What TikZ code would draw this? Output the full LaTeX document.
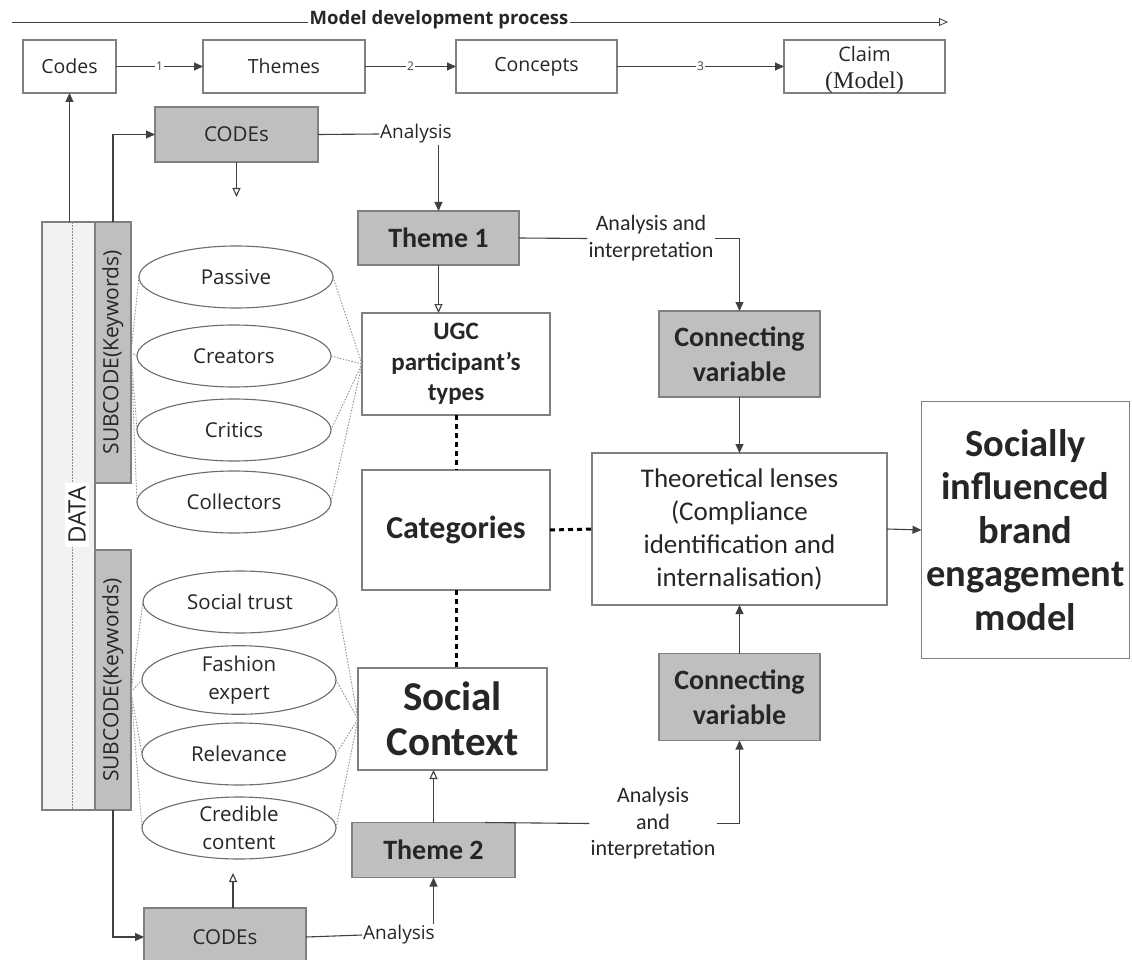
\documentclass[tikz,border=0pt]{standalone}
\usepackage{fontspec}
\setmainfont{Carlito}
\newfontfamily\segfont{Open Sans}
\newfontfamily\serfont{Liberation Serif}
\usetikzlibrary{arrows.meta,shapes.geometric}
\definecolor{boxgray}{HTML}{BFBFBF}
\definecolor{datafill}{HTML}{F2F2F2}
\definecolor{edgegray}{HTML}{7F7F7F}
\definecolor{linec}{HTML}{404040}
\definecolor{txt}{HTML}{262626}
\definecolor{dotgray}{HTML}{909090}
\newcommand{\fs}[2]{\fontsize{#1}{#2}\selectfont}
\begin{document}
\begin{tikzpicture}[x=1pt,y=-1pt,
 box/.style={draw=edgegray, line width=1.2pt, fill=white, inner sep=0pt, outer sep=0pt, align=center, text=txt},
 gbox/.style={box, fill=boxgray},
 oval/.style={ellipse, draw=edgegray!85!black, line width=1.1pt, fill=white, inner sep=0pt, outer sep=0pt, minimum width=194pt, minimum height=62pt, align=center, text=txt, font=\segfont\fs{20.5}{28}},
 conn/.style={draw=linec, line width=1.1pt},
 arrF/.style={conn, -{Triangle[length=9pt,width=8pt]}},
 arrO/.style={conn, -{Triangle[open,length=9pt,width=8pt,fill=white]}},
 ddash/.style={draw=black, line width=3pt, dash pattern=on 5pt off 4pt},
 dotl/.style={draw=dotgray, line width=0.9pt, dash pattern=on 1.5pt off 1.5pt},
 lbl/.style={inner sep=1pt, text=txt, align=center},
 numl/.style={fill=white, inner sep=1pt, text=linec, font=\segfont\fs{12}{13}},
]
\useasboundingbox (0,0) rectangle (1132,960);

% ---------- top process row ----------
\coordinate (pl) at (12,22);
\coordinate (pr) at (948,22);
\node[lbl, font=\segfont\bfseries\fs{18.5}{22}] (mdp) at (439,20) {Model development process};
\draw[conn, line width=0.8pt] (pl) -- (pl -| mdp.west);
\draw[arrO, line width=0.8pt] (pl -| mdp.east) -- (pr);

\node[box, minimum width=93pt, minimum height=53pt, font=\segfont\fs{19.5}{22}] (codes) at (69.5,66.5) {Codes};
\node[box, minimum width=162pt, minimum height=53pt, font=\segfont\fs{19.5}{22}] (themes) at (284,66.5) {Themes};
\node[box, minimum width=161pt, minimum height=53pt, font=\segfont\fs{19.5}{22}] (concepts) at (536.5,66.5) {Concepts};
\node[box, minimum width=161pt, minimum height=53pt] (claim) at (864.5,66.5) {};
\node[lbl, font=\segfont\fs{20}{22}] (claimt) at (864.5,54) {Claim};
\node[lbl, font=\serfont\fs{24}{26}] (modelt) at (864.5,83) {(Model)};

\draw[arrF] (codes.east) -- node[numl]{1} (themes.west);
\draw[arrF] (themes.east) -- node[numl]{2} (concepts.west);
\draw[arrF] (concepts.east) -- node[numl]{3} (claim.west);

% ---------- DATA column ----------
\node[box, fill=datafill, minimum width=53pt, minimum height=588pt] (dataBox) at (68.5,516) {};
\draw[dotl] ([xshift=3.5pt]dataBox.north) -- ([xshift=3.5pt]dataBox.south);
\node[rotate=90, fill=white, inner sep=3pt, font=\segfont\fs{24}{28}, text=txt] (datal) at (77,515) {DATA};
\node[gbox, rotate=90, minimum width=261pt, minimum height=36pt, font=\segfont\fs{21}{24}] (sub1) at (113,352.5) {SUBCODE(Keywords)};
\node[gbox, rotate=90, minimum width=260pt, minimum height=36pt, font=\segfont\fs{21}{24}] (sub2) at (113,680) {SUBCODE(Keywords)};

% ---------- ellipses ----------
\node[oval] (passive) at (236,277) {Passive};
\node[oval] (creators) at (234,356) {Creators};
\node[oval] (critics) at (234,430) {Critics};
\node[oval] (collectors) at (234,502) {Collectors};
\node[oval] (trust) at (240,602) {Social trust};
\node[oval] (fashion) at (239,680) {Fashion\\expert};
\node[oval] (relevance) at (239,754) {Relevance};
\node[oval] (credible) at (239,828) {Credible\\content};

% ---------- middle column ----------
\node[gbox, minimum width=163pt, minimum height=55pt, font=\segfont\fs{20.5}{24}] (codesTop) at (236.5,134.5) {CODEs};
\node[gbox, minimum width=161pt, minimum height=54pt, font=\bfseries\fs{28}{32}] (theme1) at (438.5,238) {Theme 1};
\node[box, minimum width=188pt, minimum height=102pt, font=\bfseries\fs{25}{30.5}] (ugc) at (456,364) {UGC\\participant’s\\types};
\node[box, minimum width=188pt, minimum height=120pt, font=\bfseries\fs{32}{36}] (categories) at (456,530) {Categories};
\node[box, minimum width=189pt, minimum height=102pt, font=\bfseries\fs{41}{45}] (social) at (452.5,719) {Social\\Context};
\node[gbox, minimum width=163pt, minimum height=55pt, font=\bfseries\fs{28}{32}] (theme2) at (433.5,850) {Theme 2};
\node[gbox, minimum width=162pt, minimum height=58pt, font=\segfont\fs{20.5}{24}] (codesBot) at (225,937) {CODEs};

% ---------- right part ----------
\node[gbox, minimum width=161pt, minimum height=86pt, font=\bfseries\fs{28}{35}] (cv1) at (739.5,354) {Connecting\\variable};
\node[box, minimum width=295pt, minimum height=152pt, font=\fs{27}{33}] (theo) at (739.5,529) {Theoretical lenses\\(Compliance\\identification and\\internalisation)};
\node[gbox, minimum width=161pt, minimum height=87pt, font=\bfseries\fs{28}{35}] (cv2) at (739.5,697) {Connecting\\variable};
\node[box, minimum width=208pt, minimum height=257pt, font=\bfseries\fs{38.5}{43.5}] (sibem) at (1025.5,530) {Socially\\influenced\\brand\\engagement\\model};

% ---------- labels ----------
\node[lbl, font=\segfont\fs{19}{22}] (an1) at (416,134) {Analysis};
\node[lbl, font=\fs{22}{27}] (ai1) at (651,238.5) {Analysis and\\interpretation};
\node[lbl, font=\fs{22}{26.5}] (ai2) at (653,823.5) {Analysis\\and\\interpretation};
\node[lbl, font=\segfont\fs{19}{22}] (an2) at (399,935) {Analysis};

% ---------- connectors ----------
\draw[arrF] (codes.south |- dataBox.north) -- (codes.south);
\draw[arrF] (sub1.east) |- (codesTop.west);
\coordinate (c1end) at (236.5,197);
\draw[arrO] (codesTop.south) -- (c1end);
\draw[conn] (codesTop.east) -- (an1.west);
\draw[arrF] (theme1.north |- an1.south) -- (theme1.north);
\draw[arrO] (theme1.south) -- (theme1.south |- ugc.north);
\draw[conn] (theme1.east) -- (ai1.west);
\draw[arrF] (ai1.east) -| (cv1.north);
\draw[arrF] (cv1.south) -- (theo.north);
\draw[arrF] (cv2.north) -- (theo.south);
\draw[arrF] (theo.east) -- (sibem.west);

\draw[arrF] (sub2.west) |- (codesBot.west);
\coordinate (c2end) at (233,873);
\draw[arrO] ([xshift=8pt]codesBot.north) -- (c2end);
\draw[conn] (codesBot.east) -- (an2.west);
\draw[arrF] (theme2.south |- an2.north) -- (theme2.south);
\draw[arrO] (theme2.north) -- (theme2.north |- social.south);
\draw[conn] ([xshift=-30pt]theme2.north east) -- (ai2.west);
\draw[arrF] (ai2.east) -| (cv2.south);

% thick dashed links
\draw[ddash] (ugc.south) -- (categories.north);
\draw[ddash] (categories.south) -- (categories.south |- social.north);
\draw[ddash] (categories.east) -- (theo.west);

% dotted fan lines
\foreach \e in {passive,creators,critics,collectors}{
  \draw[dotl] (\e.east) -- (ugc.west);
  \draw[dotl] (\e.west) -- (sub1.south);
}
\foreach \e in {trust,fashion,relevance,credible}{
  \draw[dotl] (\e.east) -- (social.west);
  \draw[dotl] ([yshift=-12pt]sub2.south) -- (\e.west);
}
\end{tikzpicture}
\end{document}
